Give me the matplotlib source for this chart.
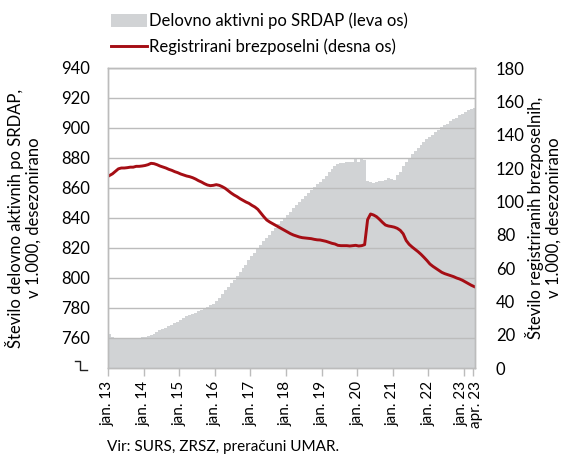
import numpy as np
import matplotlib.pyplot as plt
import matplotlib.transforms as mtransforms
from matplotlib.lines import Line2D
from matplotlib.patches import Patch

plt.rcParams['font.family'] = ['Lato', 'DejaVu Sans']

# monthly data, jan 2013 - apr 2023, in 1,000
employed = [
    762.5, 761.0, 760.0, 759.5, 759.5, 759.5, 759.5, 759.6, 759.8, 760.0, 760.3, 760.6,  # 2013
    761.0, 761.5, 762.0, 763.0, 764.0, 765.2, 766.0, 767.0, 768.0, 769.0, 770.0, 771.0,  # 2014
    772.0, 773.5, 774.8, 775.5, 776.0, 776.8, 778.2, 779.0, 780.0, 781.0, 782.0, 783.0,  # 2015
    785.0, 787.0, 789.5, 792.0, 794.0, 796.5, 799.0, 801.5, 804.0, 806.5, 809.0, 812.0,  # 2016
    815.0, 817.0, 819.5, 822.0, 824.5, 827.0, 829.0, 831.5, 833.5, 836.0, 838.0, 840.0,  # 2017
    842.0, 844.0, 846.5, 848.5, 850.5, 852.5, 854.5, 856.5, 858.5, 860.5, 862.5, 864.0,  # 2018
    866.0, 868.0, 870.5, 872.5, 874.5, 876.0, 876.5, 877.0, 877.2, 877.5, 877.5, 879.5,  # 2019
    877.5, 880.0, 878.5, 865.0, 864.0, 863.5, 864.0, 864.5, 865.0, 865.5, 866.5, 866.0,  # 2020
    865.5, 868.5, 871.0, 874.5, 877.5, 880.0, 882.5, 884.5, 886.5, 888.5, 890.5, 892.5,  # 2021
    894.0, 895.5, 897.5, 899.0, 900.5, 902.0, 903.0, 904.5, 906.0, 907.0, 908.5, 909.5,  # 2022
    911.0, 912.0, 913.0, 913.5,  # 2023
]
unemployed = [
    115.5, 116.5, 118.0, 119.5, 120.0, 120.0, 120.2, 120.5, 120.5, 121.0, 121.0, 121.2,  # 2013
    121.5, 122.0, 122.8, 122.6, 122.0, 121.2, 120.6, 120.0, 119.2, 118.6, 117.8, 117.2,  # 2014
    116.4, 115.8, 115.2, 114.8, 114.2, 113.4, 112.4, 111.6, 110.6, 109.8, 109.4, 109.6,  # 2015
    110.0, 109.6, 108.8, 107.8, 106.4, 105.0, 103.8, 102.8, 101.6, 100.6, 99.6, 98.8,  # 2016
    97.6, 96.6, 95.2, 93.0, 90.8, 88.8, 87.6, 86.6, 85.6, 84.6, 83.6, 82.6,  # 2017
    81.6, 80.6, 79.8, 79.2, 78.6, 78.2, 78.0, 77.8, 77.6, 77.2, 76.9, 76.8,  # 2018
    76.4, 76.0, 75.4, 74.8, 74.4, 73.6, 73.4, 73.4, 73.4, 73.2, 73.4, 73.6,  # 2019
    73.2, 73.4, 74.0, 89.0, 92.4, 91.8, 90.8, 89.2, 87.4, 85.8, 85.2, 84.9,  # 2020
    84.5, 83.8, 82.6, 80.5, 76.5, 74.2, 72.6, 71.2, 69.8, 68.2, 66.4, 64.5,  # 2021
    62.4, 61.0, 59.8, 58.6, 57.4, 56.6, 56.0, 55.4, 54.8, 54.0, 53.4, 52.6,  # 2022
    51.6, 50.6, 49.6, 48.8,  # 2023
]
tick_pos = [0, 12, 24, 36, 48, 60, 72, 84, 96, 108, 120, 123]
tick_labels = ['jan. 13', 'jan. 14', 'jan. 15', 'jan. 16', 'jan. 17', 'jan. 18',
               'jan. 19', 'jan. 20', 'jan. 21', 'jan. 22', 'jan. 23', 'apr. 23']
left_ticks = [760, 780, 800, 820, 840, 860, 880, 900, 920, 940]
right_ticks = [0, 20, 40, 60, 80, 100, 120, 140, 160, 180]

gray = '#d1d3d5'
red = '#a50d14'
grid_c = '#bcbcbc'
W, H = 562, 457

fig = plt.figure(figsize=(W / 100, H / 100), dpi=100)
ax = fig.add_axes([108 / W, 1 - 368 / H, (475 - 108) / W, 300 / H])
ax2 = ax.twinx()

# one column per month, drawn as a filled step outline (no seams between bars)
x = np.arange(len(employed))
ax.stairs(employed, np.arange(len(employed) + 1), baseline=740, fill=True,
          color=gray, linewidth=0)
ax.set_ylim(740, 940)
ax.set_xlim(0, 123.7)
ax.set_yticks(left_ticks)
ax.set_axisbelow(False)
ax.grid(axis='y', color=grid_c, linewidth=1.0)
ax.tick_params(axis='y', length=0, pad=13, labelsize=12)
ax.set_xticks(tick_pos)
ax.set_xticklabels(tick_labels, rotation=90, fontsize=11)
ax.tick_params(axis='x', length=6, width=1, color=grid_c, pad=3)

# the last two labels sit side by side
xl = ax.get_xticklabels()
xl[-2].set_transform(xl[-2].get_transform() + mtransforms.ScaledTranslation(-2 / 100, 0, fig.dpi_scale_trans))
xl[-1].set_transform(xl[-1].get_transform() + mtransforms.ScaledTranslation(3 / 100, 0, fig.dpi_scale_trans))

ax2.plot(x + 0.5, unemployed, color=red, linewidth=2.1)
ax2.set_ylim(0, 180)
ax2.set_yticks(right_ticks)
ax2.tick_params(axis='y', length=0, pad=15, labelsize=12)

for a in (ax, ax2):
    for s in a.spines.values():
        s.set_color(grid_c)
        s.set_linewidth(1.0)

# axis break sign at the bottom of the left axis
fig.add_artist(Line2D([75 / W, 80 / W, 80 / W, 87 / W],
                      [1 - 361 / H, 1 - 361 / H, 1 - 370 / H, 1 - 370 / H],
                      color='#222222', linewidth=1.0))

fig.text(23 / W, 1 - 218 / H, 'Število delovno aktivnih po SRDAP,\nv 1.000, desezonirano',
         rotation=90, ha='center', va='center', fontsize=12, linespacing=1.1)
fig.text(543 / W, 1 - 218 / H, 'Število registriranih brezposelnih,\nv 1.000, desezonirano',
         rotation=90, ha='center', va='center', fontsize=12, linespacing=1.1)

handles = [Patch(facecolor=gray, edgecolor='none'),
           Line2D([0], [0], color=red, linewidth=2.1)]
fig.legend(handles, ['Delovno aktivni po SRDAP (leva os)', 'Registrirani brezposelni (desna os)'],
           loc='upper left', bbox_to_anchor=(104 / W, 1 - 6 / H), frameon=False,
           fontsize=12, handlelength=2.2, handleheight=0.8, handletextpad=0.1,
           labelspacing=0.55, borderaxespad=0)

fig.text(107 / W, 1 - 447 / H, 'Vir: SURS, ZRSZ, preračuni UMAR.', fontsize=11, va='center')

fig.savefig('out.png', dpi=100)
